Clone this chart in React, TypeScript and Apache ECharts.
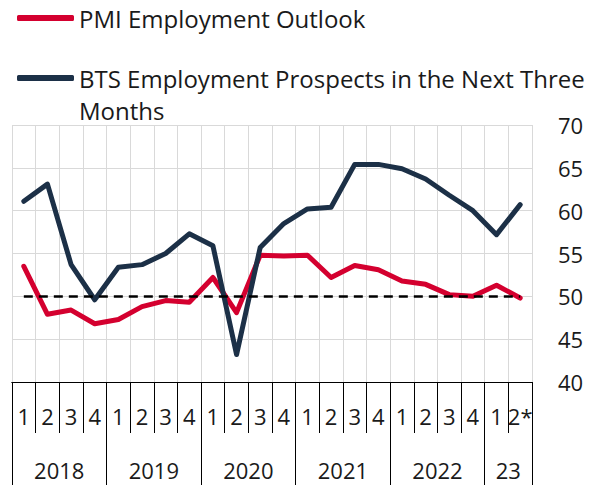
import React, { useEffect, useRef } from "react";
import * as echarts from "echarts";

const quarterLabels = [
  "1", "2", "3", "4",
  "1", "2", "3", "4",
  "1", "2", "3", "4",
  "1", "2", "3", "4",
  "1", "2", "3", "4",
  "1", "2*",
];
// boundary points 0..22; year names sit at the middle of each year's span
const yearLabels = [
  "", "", "2018", "", "",
  "", "2019", "", "",
  "", "2020", "", "",
  "", "2021", "", "",
  "", "2022", "", "",
  "23", "",
];
const yearBoundaries = [0, 4, 8, 12, 16, 20, 22];

const pmiName = "PMI Employment Outlook";
const btsName = "BTS Employment Prospects in the Next Three Months";

const pmiValues = [
  53.5, 47.9, 48.4, 46.8,
  47.3, 48.8, 49.5, 49.3,
  52.2, 48.1, 54.8, 54.7,
  54.8, 52.2, 53.6, 53.1,
  51.8, 51.4, 50.2, 50.0,
  51.3, 49.8,
];
const btsValues = [
  61.1, 63.1, 53.7, 49.6,
  53.4, 53.7, 55.0, 57.3,
  55.9, 43.2, 55.7, 58.5,
  60.2, 60.4, 65.4, 65.4,
  64.9, 63.7, 61.8, 60.0,
  57.2, 60.7,
];
const referenceLevel = 50;
const yTicks = { min: 40, max: 70, step: 5 };

const FONT = "'Open Sans', 'Noto Sans', sans-serif";
const TEXT = "#1a1a1a";
const RED = "#d4002f";
const NAVY = "#1c3047";
const GRID = "#d9d9d9";

export default function App() {
  const ref = useRef<HTMLDivElement>(null);
  useEffect(() => {
    if (!ref.current) return;
    const chart = echarts.init(ref.current, null, { renderer: "svg" });
    const legendBase = {
      left: 17,
      padding: 0,
      orient: "vertical",
      itemWidth: 57,
      itemHeight: 6,
      icon: "roundRect",
      selectedMode: false,
    };
    chart.setOption({
      animation: false,
      textStyle: { fontFamily: FONT },
      legend: [
        {
          ...legendBase,
          top: 2,
          data: [pmiName],
          textStyle: { fontFamily: FONT, fontSize: 24, lineHeight: 32, color: TEXT },
        },
        {
          ...legendBase,
          top: 30,
          data: [btsName],
          formatter: (n: string) => "\n" + n.replace(" Three ", " Three\n"),
          textStyle: {
            fontFamily: FONT,
            fontSize: 24,
            lineHeight: 32,
            color: TEXT,
          },
        },
      ],
      grid: { left: 12, right: 66, top: 125, bottom: 104, containLabel: false },
      xAxis: [
        {
          type: "category",
          data: quarterLabels,
          boundaryGap: true,
          position: "bottom",
          axisLine: { show: true, lineStyle: { color: "#000", width: 1 } },
          axisTick: { show: true, interval: 0, length: 51, lineStyle: { color: "#000", width: 1 } },
          axisLabel: {
            interval: 0,
            fontSize: 22,
            lineHeight: 22,
            margin: 23,
            color: TEXT,
            fontFamily: FONT,
          },
          splitLine: { show: true, interval: 0, lineStyle: { color: GRID, width: 1 } },
        },
        {
          type: "category",
          data: yearLabels,
          boundaryGap: false,
          position: "bottom",
          offset: 0,
          axisLine: { show: true, lineStyle: { color: "#000", width: 1 } },
          axisTick: {
            show: true,
            interval: (i: number) => yearBoundaries.includes(i),
            length: 103,
            lineStyle: { color: "#000", width: 1 },
          },
          axisLabel: {
            interval: 0,
            fontSize: 22,
            lineHeight: 22,
            margin: 77,
            color: TEXT,
            fontFamily: FONT,
          },
          splitLine: { show: false },
        },
      ],
      yAxis: {
        type: "value",
        position: "right",
        min: yTicks.min,
        max: yTicks.max,
        interval: yTicks.step,
        axisLine: { show: false },
        axisTick: { show: false },
        axisLabel: { fontSize: 22, margin: 26, color: TEXT, fontFamily: FONT },
        splitLine: { show: true, lineStyle: { color: GRID, width: 1 } },
      },
      series: [
        {
          name: pmiName,
          type: "line",
          data: pmiValues,
          color: RED,
          symbol: "none",
          lineStyle: { width: 5, color: RED, cap: "round", join: "round" },
          z: 3,
        },
        {
          name: btsName,
          type: "line",
          data: btsValues,
          color: NAVY,
          symbol: "none",
          lineStyle: { width: 5, color: NAVY, cap: "round", join: "round" },
          z: 4,
          markLine: {
            silent: true,
            symbol: "none",
            z: 10,
            label: { show: false },
            lineStyle: { color: "#000", width: 2.5, type: [9, 6] },
            data: [
              [
                { coord: [0, referenceLevel] },
                { coord: [quarterLabels.length - 1, referenceLevel] },
              ],
            ],
          },
        },
      ],
    });
    return () => chart.dispose();
  }, []);
  return (
    <div
      ref={ref}
      style={{ position: "fixed", left: 0, top: 0, width: 598, height: 486, background: "#fff" }}
    />
  );
}
